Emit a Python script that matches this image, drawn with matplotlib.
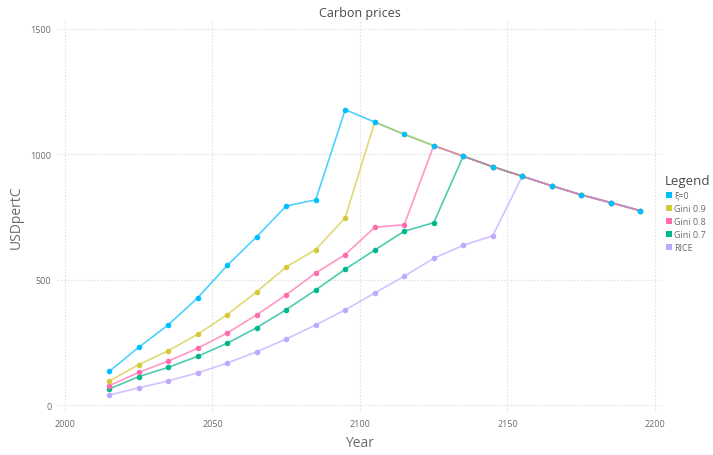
import matplotlib.pyplot as plt
from matplotlib.lines import Line2D

years = list(range(2015, 2200, 10))

# shared tail after each series reaches the optimal path
xi0 = [135, 231, 320, 428, 557, 671, 794, 818, 1177, 1128,
       1079, 1034, 992, 950, 912, 874, 838, 807, 775]
gini09 = [96, 162, 217, 283, 361, 452, 551, 620, 747, 1128,
          1079, 1034, 992, 950, 912, 874, 838, 807, 775]
gini08 = [78, 131, 176, 227, 288, 360, 440, 527, 600, 709,
          719, 1034, 992, 950, 912, 874, 838, 807, 775]
gini07 = [65, 114, 151, 195, 247, 309, 381, 459, 542, 618,
          693, 727, 992, 950, 912, 874, 838, 807, 775]
rice = [41, 69, 97, 129, 168, 213, 264, 320, 380, 447,
        514, 585, 637, 675, 912, 874, 838, 807, 775]

labels = ["ξ=0", "Gini 0.9", "Gini 0.8", "Gini 0.7", "RICE"]
series = [xi0, gini09, gini08, gini07, rice]
colors = ["#00BFFF", "#D4CA3A", "#FF6DAE", "#00B78D", "#BEA9FF"]

xticks = [2000, 2050, 2100, 2150, 2200]
yticks = [0, 500, 1000, 1500]

plt.rcParams['font.family'] = ['Open Sans', 'DejaVu Sans']
txt = "#6c6a70"

fig = plt.figure(figsize=(7.13, 4.56), dpi=100)
ax = fig.add_axes([0.080, 0.092, 0.8485, 0.864])

# pink on top so the common tail gets the rosy tint of the original
line_order = [0, 1, 3, 4, 2]
for i in line_order:
    ax.plot(years, series[i], color=colors[i], lw=1.2, alpha=0.7, zorder=2)
for vals, c in reversed(list(zip(series, colors))):
    ax.plot(years, vals, ls="none", marker="o", ms=4, color=c, mew=0, zorder=3)

ax.set_xlim(1997.3, 2202.4)
ax.set_ylim(-31, 1538)
ax.set_xticks(xticks)
ax.set_yticks(yticks)
ax.grid(True, color="#e2e2e2", ls=(0, (1.5, 1.5)), lw=0.8)
for s in ax.spines.values():
    s.set_visible(False)
ax.tick_params(length=0, labelsize=6.5, labelcolor=txt, pad=4)

ax.set_title("Carbon prices", fontsize=9, color="#4a484e", pad=1)
ax.set_xlabel("Year", fontsize=10, color=txt, labelpad=5)
ax.set_ylabel("USDpertC", fontsize=10, color=txt, labelpad=5)

handles = [Line2D([], [], ls="none", marker="s", ms=5, color=c, mew=0) for c in colors]
leg = fig.legend(handles, labels, loc="upper left", bbox_to_anchor=(0.927, 0.625),
                 frameon=False, fontsize=6.5, title="Legend", handletextpad=0.1,
                 handlelength=1.0, labelspacing=0.45, borderaxespad=0)
leg.get_title().set_fontsize(9.5)
leg.get_title().set_color("#4a484e")
leg._legend_box.align = "left"
for t in leg.get_texts():
    t.set_color(txt)

fig.savefig("out.png", dpi=100)
